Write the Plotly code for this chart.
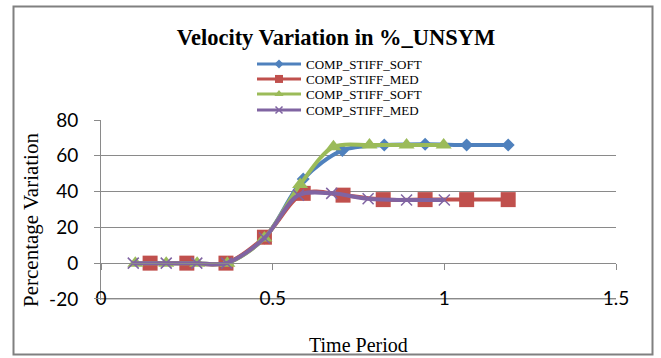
import plotly.graph_objects as go

# ---- data ----
names = ["COMP_STIFF_SOFT", "COMP_STIFF_MED", "COMP_STIFF_SOFT", "COMP_STIFF_MED"]
x_soft = [0.143, 0.250, 0.364, 0.476, 0.589, 0.703, 0.825, 0.944, 1.065, 1.186]
y_soft = [0, 0, 0, 14, 47, 63, 66, 66.5, 66, 66]
x_med = [0.143, 0.250, 0.364, 0.476, 0.589, 0.705, 0.822, 0.944, 1.065, 1.186]
y_med = [0, 0, 0, 14.5, 39, 38, 35.5, 35.5, 35.5, 35.5]
x_soft2 = [0.100, 0.190, 0.280, 0.368, 0.476, 0.580, 0.677, 0.782, 0.890, 0.998]
y_soft2 = [0, 0, 0, 0, 14, 44, 65, 66, 66, 66]
x_med2 = [0.094, 0.190, 0.279, 0.366, 0.476, 0.575, 0.672, 0.778, 0.890, 1.000]
y_med2 = [0, 0, 0, 0, 14, 38, 39, 36, 35.3, 35.3]
x_ticks = [0, 0.5, 1, 1.5]
y_ticks = [-20, 0, 20, 40, 60, 80]

W, H = 661, 358
L, R, T, B = 101, 45, 120, 58
PW, PH = W - L - R, H - T - B
Y_RANGE = [-20.6, 80]

def px(xp):
    return (xp - L) / PW

def py(yp):
    return (H - B - yp) / PH

colors = ["#4F81BD", "#C0504D", "#9BBB59", "#8064A2"]
symbols = ["diamond", "square", "triangle-up", "x-thin"]
msizes = [10, 15, 14, 11]
leg_sizes = [7, 8, 8, 7]
series = [(x_soft, y_soft), (x_med, y_med), (x_soft2, y_soft2), (x_med2, y_med2)]
legend_ids = ["legend", "legend2", "legend3", "legend4"]

fig = go.Figure()
for i, (xs, ys) in enumerate(series):
    mk = dict(symbol=symbols[i], size=msizes[i], color=colors[i])
    if symbols[i] == "x-thin":
        mk["line"] = dict(color=colors[i], width=1.5)
    fig.add_trace(go.Scatter(
        x=xs, y=ys, mode="lines+markers", name=names[i],
        line=dict(color=colors[i], width=4, shape="spline", smoothing=0.9),
        marker=mk, showlegend=False, legendgroup=str(i)))

# legend-only entries (smaller symbols, like the reference legend)
for i in range(4):
    mk = dict(symbol=symbols[i], size=leg_sizes[i], color=colors[i])
    if symbols[i] == "x-thin":
        mk["line"] = dict(color=colors[i], width=1.5)
    fig.add_trace(go.Scatter(
        x=[None], y=[None], mode="lines+markers", name=names[i],
        line=dict(color=colors[i], width=3), marker=mk,
        legend=legend_ids[i], legendgroup=str(i), showlegend=True))

row_y = [64, 79, 94, 110]
layout_legends = {}
for i, lid in enumerate(legend_ids):
    layout_legends[lid] = dict(
        x=252 / W, xref="container", xanchor="left",
        y=1 - row_y[i] / H, yref="container", yanchor="middle",
        font=dict(family="Liberation Serif", size=13, color="black"),
        bgcolor="rgba(0,0,0,0)", borderwidth=0, itemwidth=44,
        tracegroupgap=0)

grid = "#8a8a8a"
fig.update_layout(
    width=W, height=H,
    margin=dict(l=L, r=R, t=T, b=B, autoexpand=False),
    paper_bgcolor="white", plot_bgcolor="white",
    title=dict(text="Velocity Variation in %_UNSYM", x=336 / W, xref="container",
               xanchor="center", y=1 - 37 / H, yref="container", yanchor="middle",
               font=dict(family="Liberation Serif", size=22.5, color="black", weight=700)),
    xaxis=dict(range=[0, 1.5], tickvals=x_ticks, ticktext=[f"{v:g}" for v in x_ticks],
               showgrid=False, zeroline=False, anchor="free",
               position=(0 - Y_RANGE[0]) / (Y_RANGE[1] - Y_RANGE[0]),
               showline=True, linecolor=grid, linewidth=1,
               ticks="outside", ticklen=6, tickcolor=grid,
               ticklabelstandoff=12,
               tickfont=dict(family="Lato", size=19, color="black")),
    yaxis=dict(range=Y_RANGE, tickvals=y_ticks, ticktext=[f"{v:g}" for v in y_ticks],
               showgrid=True, gridcolor=grid,
               gridwidth=1, zeroline=False, showline=True, linecolor=grid,
               linewidth=1, ticks="outside", ticklen=6, tickcolor=grid,
               ticklabelstandoff=12,
               tickfont=dict(family="Lato", size=19, color="black")),
    shapes=[
        dict(type="rect", xref="paper", yref="paper",
             x0=px(13.5), x1=px(652.5), y0=py(354.5), y1=py(6.5),
             line=dict(color="#808080", width=2), layer="below"),
        # lowest gridline (plotly omits it at the plot edge)
        dict(type="line", xref="paper", yref="y", x0=0, x1=1,
             y0=y_ticks[0], y1=y_ticks[0],
             line=dict(color=grid, width=1), layer="below"),
    ],
    annotations=[
        dict(text="Percentage Variation", xref="paper", yref="paper",
             x=px(31), y=py(220), textangle=-90, showarrow=False,
             xanchor="center", yanchor="middle",
             font=dict(family="Liberation Serif", size=21, color="black")),
        dict(text="Time Period", xref="paper", yref="paper",
             x=px(358.5), y=py(345), showarrow=False,
             xanchor="center", yanchor="middle",
             font=dict(family="Liberation Serif", size=20, color="black")),
    ],
    **layout_legends,
)

fig.write_html("out.html")
